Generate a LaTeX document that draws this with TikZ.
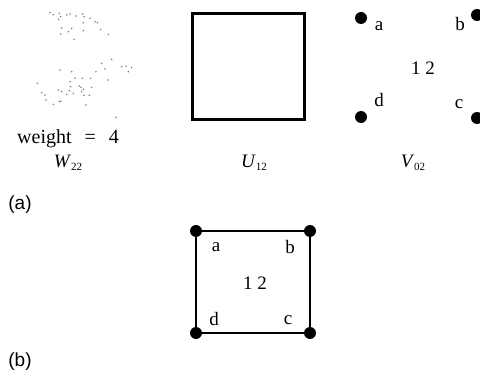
\documentclass[tikz,border=0pt]{standalone}
\usepackage{fontspec}
\setmainfont{Liberation Serif}
\setsansfont{Liberation Sans}
\begin{document}
\begin{tikzpicture}[x=1pt,y=-1pt,
  lbl/.style={inner sep=0pt,font=\fontsize{19}{21}\selectfont},
  dotn/.style={circle,fill=black,inner sep=0pt,minimum size=12pt},
  edge/.style={line width=2pt},
  speck/.style={fill=black!50}]
\useasboundingbox (0,0) rectangle (480,377);
% noisy weight pattern (W22)
\foreach \x/\y in {150/38,160/44,178/40,182/50,200/45,210/42,228/48,248/42,252/50,270/55,285/65,292/68,250/68,302/88,325/103,182/102,185/84,205/95,215/85,222/118,250/92,176/58,
  335/178,305/190,288/215,315/207,365/200,378/198,395/203,385/215,323/240,180/210,215/215,210/245,225/235,247/235,272/235,238/258,243/262,250/268,275/262,212/260,208/272,200/283,175/270,185/275,112/250,125/278,135/285,138/300,160/313,178/305,183/304,220/280,245/275,252/286,268/286,258/315,348/352}
  \fill[speck] (\x/3,\y/3) circle (0.9);
\node[lbl,anchor=west,font=\fontsize{20}{22}\selectfont] (wt) at (17,139) {weight\hspace{13pt}=\hspace{13pt}4};
% U12 square
\node[draw,line width=2.2pt,minimum width=112pt,minimum height=106pt,inner sep=0pt] (U) at (248.5,66.5) {};
% V02 dots
\node[dotn] (va) at (361,18) {};
\node[dotn] (vb) at (477,15) {};
\node[dotn] (vd) at (361,117) {};
\node[dotn] (vc) at (477,118) {};
\node[lbl] (la) at (379,26) {a};
\node[lbl] (lb) at (460,24) {b};
\node[lbl] (l12) at (423,68) {1 2};
\node[lbl] (ld) at (379,100) {d};
\node[lbl] (lc) at (459,104) {c};
% captions
\node[lbl] (W) at (68,163) {\textit{W}\raisebox{-0.35ex}{\fontsize{11}{12}\selectfont 22}};
\node[lbl] (Ucap) at (254,163) {\textit{U}\raisebox{-0.35ex}{\fontsize{11}{12}\selectfont 12}};
\node[lbl] (V) at (413,163) {\textit{V}\raisebox{-0.35ex}{\fontsize{11}{12}\selectfont 02}};
\node[lbl,font=\fontsize{19}{21}\selectfont\sffamily] (pa) at (20,205) {(a)};
\node[lbl,font=\fontsize{19}{21}\selectfont\sffamily] (pb) at (20,362) {(b)};
% (b) square
\node[dotn] (ba) at (196,231) {};
\node[dotn] (bb) at (310,231) {};
\node[dotn] (bc) at (310,333) {};
\node[dotn] (bd) at (196,333) {};
\draw[edge] (ba.center) -- (bb.center) -- (bc.center) -- (bd.center) -- cycle;
\node[lbl] (xa) at (216,247) {a};
\node[lbl] (xb) at (290,247) {b};
\node[lbl] (x12) at (255,283) {1 2};
\node[lbl] (xd) at (214,319) {d};
\node[lbl] (xc) at (288,320) {c};
\end{tikzpicture}
\end{document}
